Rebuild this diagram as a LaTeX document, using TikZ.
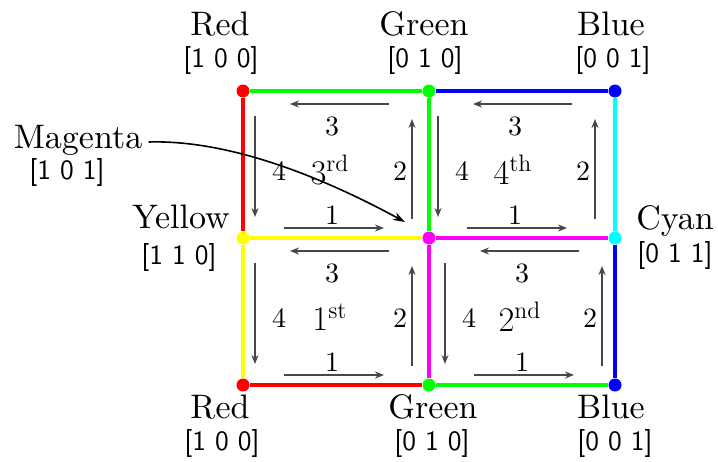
\documentclass[tikz,border=0pt]{standalone}
\usepackage{amsmath}
\usepackage{fontspec}
\newfontfamily\heavyrm{lmroman10-regular}[Extension=.otf]
\usetikzlibrary{arrows.meta}

\definecolor{cRed}{RGB}{255,0,0}
\definecolor{cGreen}{RGB}{0,255,0}
\definecolor{cBlue}{RGB}{0,0,255}
\definecolor{cYellow}{RGB}{255,255,0}
\definecolor{cMagenta}{RGB}{255,0,255}
\definecolor{cCyan}{RGB}{0,255,255}

\tikzset{
	vertex/.style={circle,inner sep=0pt,minimum size=6.5pt},
	edge/.style={line width=2.4pt},
	walk/.style={draw=black!72,line width=1.2pt,-{Stealth[length=4.5pt,width=3.5pt]}},
	pointer/.style={draw=black,line width=0.8pt,-{Stealth[length=6pt,width=4pt]}},
	cname/.style={anchor=base,inner sep=0pt,font=\heavyrm\fontsize{17}{20}\selectfont},
	ccode/.style={inner sep=0pt,font=\sffamily\fontsize{14}{16}\selectfont},
	num/.style={inner sep=0pt,font=\heavyrm\fontsize{14}{16}\selectfont},
	ord/.style={inner sep=0pt,font=\heavyrm\fontsize{17}{20}\selectfont},
}

\begin{document}
\begin{tikzpicture}[x=0.5pt,y=-0.5pt]
	\useasboundingbox (0,0) rectangle (718,461);

	% corners of the colour grid
	\node[vertex,fill=cRed] (R1) at (243,91) {};
	\node[vertex,fill=cGreen] (G1) at (429,91) {};
	\node[vertex,fill=cBlue] (B1) at (615,91) {};
	\node[vertex,fill=cYellow] (Y) at (243,238) {};
	\node[vertex,fill=cMagenta] (M) at (429,238) {};
	\node[vertex,fill=cCyan] (C) at (615,238) {};
	\node[vertex,fill=cRed] (R2) at (243,385) {};
	\node[vertex,fill=cGreen] (G2) at (429,385) {};
	\node[vertex,fill=cBlue] (B2) at (615,385) {};

	\draw[edge,cGreen] (R1) -- (G1);
	\draw[edge,cBlue] (G1) -- (B1);
	\draw[edge,cRed] (R1) -- (Y);
	\draw[edge,cGreen] (G1) -- (M);
	\draw[edge,cCyan] (B1) -- (C);
	\draw[edge,cYellow] (Y) -- (M);
	\draw[edge,cMagenta] (M) -- (C);
	\draw[edge,cYellow] (Y) -- (R2);
	\draw[edge,cMagenta] (M) -- (G2);
	\draw[edge,cBlue] (C) -- (B2);
	\draw[edge,cRed] (R2) -- (G2);
	\draw[edge,cGreen] (G2) -- (B2);

	% colour names
	\node[cname] (lR1) at (220,35) {Red};
	\node[ccode] (cR1) at (221,60) {[1 0 0]};
	\node[cname] (lG1) at (424,35) {Green};
	\node[ccode] (cG1) at (425,60) {[0 1 0]};
	\node[cname] (lB1) at (611,35) {Blue};
	\node[ccode] (cB1) at (613,60) {[0 0 1]};
	\node[cname] (lMag) at (78,148) {Magenta};
	\node[ccode] (cMag) at (67,172) {[1 0 1]};
	\node[cname] (lY) at (181,228) {Yellow};
	\node[ccode] (cY) at (179,257) {[1 1 0]};
	\node[cname] (lC) at (675,229) {Cyan};
	\node[ccode] (cC) at (675,255) {[0 1 1]};
	\node[cname] (lR2) at (220,418) {Red};
	\node[ccode] (cR2) at (222,443) {[1 0 0]};
	\node[cname] (lG2) at (433,418) {Green};
	\node[ccode] (cG2) at (432,443) {[0 1 0]};
	\node[cname] (lB2) at (611,418) {Blue};
	\node[ccode] (cB2) at (615,443) {[0 0 1]};

	% order of the walk in each square
	\foreach \cx/\cy/\dx/\o [count=\i] in {243/91/0/3^{\mathrm{rd}},429/91/-3/4^{\mathrm{th}},243/238/0/1^{\mathrm{st}},429/238/4/2^{\mathrm{nd}}}{
		\begin{scope}[shift={(\cx+\dx,\cy)}]
			\draw[walk] (41,137) -- (141,137);
			\draw[walk] (169,128) -- (169,28);
			\draw[walk] (146,13) -- (47,13);
			\draw[walk] (12,25) -- (12,126);
			\node[num] (one\i) at (89,124) {1};
			\node[num] (two\i) at (157,80) {2};
			\node[num] (three\i) at (89,35) {3};
			\node[num] (four\i) at (36,80) {4};
			\node[ord] (ord\i) at (87,79) {$\o$};
		\end{scope}
	}

	\coordinate (magtip) at (405,222);
	\draw[pointer] ([xshift=3pt,yshift=3pt]lMag.base east) .. controls (215,140) and (300,165) .. (magtip);
\end{tikzpicture}
\end{document}
